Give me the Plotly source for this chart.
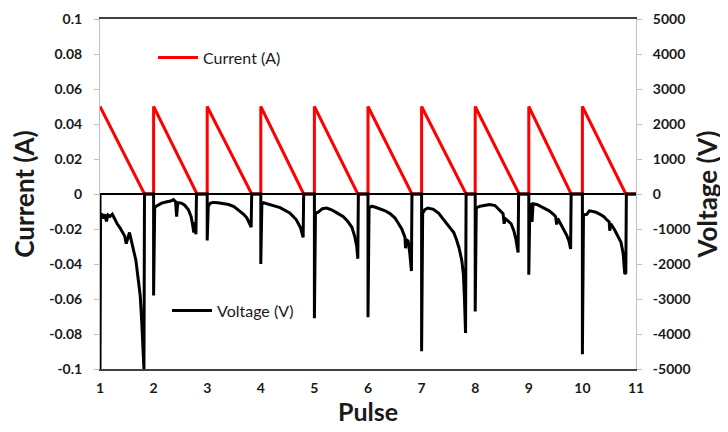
import plotly.graph_objects as go

# ---- data ----
pulse_ticks = [1, 2, 3, 4, 5, 6, 7, 8, 9, 10, 11]
current_ticks = [0.1, 0.08, 0.06, 0.04, 0.02, 0, -0.02, -0.04, -0.06, -0.08, -0.1]
current_tick_labels = ["0.1", "0.08", "0.06", "0.04", "0.02", "0", "-0.02", "-0.04", "-0.06", "-0.08", "-0.1"]
voltage_ticks = [5000, 4000, 3000, 2000, 1000, 0, -1000, -2000, -3000, -4000, -5000]

current_x = [1, 1.83, 2, 2, 2.81, 3, 3, 3.83, 4, 4, 4.8, 5, 5, 5.81, 6, 6, 6.82, 7, 7,
             7.83, 8, 8, 8.82, 9, 9, 9.79, 10, 10, 10.81, 11]
current_a = [0.05, 0, 0, 0.05, 0, 0, 0.05, 0, 0, 0.05, 0, 0, 0.05, 0, 0, 0.05, 0, 0, 0.05,
             0, 0, 0.05, 0, 0, 0.05, 0, 0, 0.05, 0, 0]

voltage_x = [
    1.00, 1.00, 1.01, 1.03, 1.06, 1.09, 1.12, 1.15, 1.19, 1.23, 1.27, 1.32, 1.37, 1.42, 1.46, 1.49,
    1.52, 1.55, 1.58, 1.62, 1.67, 1.71, 1.75, 1.78, 1.80, 1.82, 1.83, 2.00,
    2.00, 2.02, 2.05, 2.10, 2.15, 2.25, 2.32, 2.37, 2.41, 2.43, 2.45, 2.52, 2.58, 2.65, 2.70,
    2.73, 2.75, 2.76, 2.78, 2.79, 2.80, 3.00,
    3.00, 3.02, 3.06, 3.12, 3.20, 3.30, 3.40, 3.50, 3.61, 3.68, 3.74, 3.78, 3.81, 3.82, 3.83, 4.00,
    4.00, 4.02, 4.05, 4.17, 4.36, 4.54, 4.66, 4.74, 4.79, 4.80, 5.00,
    5.00, 5.02, 5.07, 5.15, 5.23, 5.32, 5.42, 5.54, 5.62, 5.70, 5.75, 5.79, 5.81, 5.82, 6.00,
    6.00, 6.02, 6.07, 6.14, 6.22, 6.32, 6.41, 6.50, 6.56, 6.63, 6.69, 6.70, 6.72, 6.75, 6.78,
    6.81, 6.82, 7.00,
    7.00, 7.02, 7.06, 7.12, 7.22, 7.32, 7.41, 7.53, 7.60, 7.65, 7.70, 7.75, 7.78, 7.80, 7.82,
    7.83, 8.00,
    8.00, 8.02, 8.09, 8.18, 8.27, 8.37, 8.46, 8.52, 8.54, 8.56, 8.62, 8.67, 8.72, 8.76, 8.80,
    8.81, 9.00,
    9.00, 9.02, 9.04, 9.06, 9.08, 9.15, 9.27, 9.38, 9.46, 9.50, 9.52, 9.54, 9.61, 9.67, 9.71,
    9.75, 9.78, 9.79, 10.00,
    10.00, 10.02, 10.08, 10.13, 10.17, 10.25, 10.33, 10.40, 10.45, 10.50, 10.51, 10.53, 10.60,
    10.66, 10.72, 10.76, 10.79, 10.81, 10.82, 11.00,
]
voltage_v = [
    0, -5000, -600, -560, -700, -580, -780, -600, -640, -580, -720, -850, -960, -1100, -1200, -1420,
    -1250, -1100, -1300, -1550, -1900, -2400, -2900, -3700, -4300, -5000, 0, 0,
    -2900, -400, -350, -300, -260, -220, -200, -160, -220, -650, -250, -260, -320, -450, -650,
    -900, -1100, -800, -1100, -1150, 0, 0,
    -1330, -350, -260, -240, -250, -270, -300, -360, -480, -580, -680, -800, -900, -950, 0, 0,
    -2000, -300, -250, -300, -390, -540, -730, -960, -1240, 0, 0,
    -3550, -550, -520, -420, -400, -450, -540, -650, -780, -950, -1200, -1500, -1850, 0, 0,
    -3520, -400, -350, -380, -420, -480, -560, -680, -820, -1000, -1240, -1550, -1300, -1350, -1700,
    -2200, 0, 0,
    -4490, -550, -450, -400, -440, -550, -730, -960, -1100, -1300, -1550, -1900, -2300, -3000, -3970,
    0, 0,
    -3360, -400, -350, -320, -300, -330, -480, -560, -850, -700, -780, -850, -1050, -1300, -1670,
    0, 0,
    -2310, -300, -300, -800, -280, -300, -400, -480, -580, -650, -870, -700, -900, -1050, -1190,
    -1350, -1570, 0, 0,
    -4580, -600, -580, -480, -490, -520, -580, -650, -730, -800, -1050, -850, -1020,
    -1200, -1380, -1700, -2280, -2250, 0, 0,
]

FONT = "Lato"

fig = go.Figure()
fig.add_trace(go.Scatter(
    x=voltage_x, y=voltage_v, yaxis="y2", mode="lines", name="Voltage (V)",
    line=dict(color="black", width=3), legend="legend2",
))
fig.add_trace(go.Scatter(
    x=current_x, y=current_a, yaxis="y", mode="lines", name="Current (A)",
    line=dict(color="#ff0000", width=3), legend="legend",
))

tickfont = dict(family=FONT, size=14, color="#1a1a1a", weight="bold")
ytitlefont = dict(family=FONT, size=26, color="#1a1a1a", weight="bold")
xtitlefont = dict(family=FONT, size=25, color="#1a1a1a", weight="bold")

# the page body has an 8px margin, so the figure is a little smaller than the window
fig.update_layout(
    width=720, height=424,
    margin=dict(l=92, r=92, t=11, b=63, autoexpand=False),
    paper_bgcolor="white", plot_bgcolor="white",
    font=dict(family=FONT),
    xaxis=dict(
        range=[1, 11], tickvals=pulse_ticks, ticktext=[str(v) for v in pulse_ticks],
        tickfont=tickfont, showgrid=False, zeroline=False, automargin=False,
        showline=True, linecolor="#404040", linewidth=1.5, mirror=True,
        ticks="", ticklabelstandoff=5,
        title=dict(text="Pulse", font=xtitlefont, standoff=4),
    ),
    yaxis=dict(
        range=[-0.1, 0.1], tickvals=current_ticks, ticktext=current_tick_labels,
        tickfont=tickfont, showgrid=False, automargin=False, ticklabeloverflow="allow",
        zeroline=True, zerolinecolor="black", zerolinewidth=2,
        showline=True, linecolor="#bfbfbf", linewidth=1,
        ticks="outside", ticklen=5, tickcolor="#bfbfbf", ticklabelstandoff=9,
        title=dict(text="Current (A)", font=ytitlefont, standoff=8),
    ),
    yaxis2=dict(
        range=[-5000, 5000], tickvals=voltage_ticks, ticktext=[str(v) for v in voltage_ticks],
        overlaying="y", side="right", anchor="x", automargin=False, ticklabeloverflow="allow",
        tickfont=tickfont, showgrid=False, zeroline=False,
        showline=True, linecolor="#bfbfbf", linewidth=1,
        ticks="outside", ticklen=5, tickcolor="#bfbfbf", ticklabelstandoff=8,
        title=dict(text="Voltage (V)", font=ytitlefont, standoff=6),
    ),
    legend=dict(
        x=0.099, y=0.89, xanchor="left", yanchor="middle",
        font=dict(family=FONT, size=16, color="#1a1a1a"),
        bgcolor="rgba(0,0,0,0)", itemwidth=40,
    ),
    legend2=dict(
        x=0.125, y=0.167, xanchor="left", yanchor="middle",
        font=dict(family=FONT, size=16, color="#1a1a1a"),
        bgcolor="rgba(0,0,0,0)", itemwidth=40,
    ),
    showlegend=True,
)

fig.write_html("out.html")
